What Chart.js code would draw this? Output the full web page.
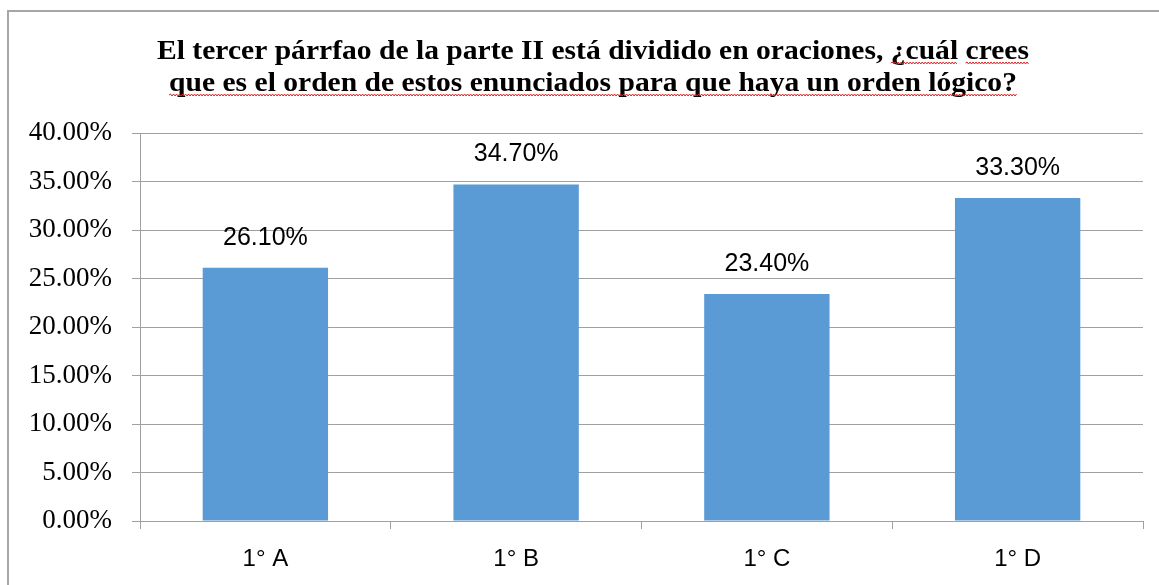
<!DOCTYPE html>
<html>
<head>
<meta charset="utf-8">
<script src="https://cdn.jsdelivr.net/npm/chart.js@4.4.0/dist/chart.umd.min.js"></script>
<style>
  html, body { margin: 0; padding: 0; background: #fff; }
  #wrap { position: absolute; left: 0; top: 0; width: 1159px; height: 585px; }
</style>
</head>
<body>
<div id="wrap"><canvas id="c" width="1159" height="585"></canvas></div>
<script>
const categories = ['1° A', '1° B', '1° C', '1° D'];
const values = [26.1, 34.7, 23.4, 33.3];
const titleLines = [
  'El tercer párrfao de la parte II está dividido en oraciones, ¿cuál crees',
  'que es el orden de estos enunciados para que haya un orden lógico?'
];
const underlinedWordsLine1 = ['¿cuál', 'crees'];

const frame = {
  id: 'frame',
  beforeDraw(chart) {
    const ctx = chart.ctx;
    ctx.save();
    ctx.fillStyle = '#fff';
    ctx.fillRect(0, 0, chart.width, chart.height);
    ctx.strokeStyle = '#a6a6a6';
    ctx.lineWidth = 2;
    ctx.beginPath();
    ctx.moveTo(8, chart.height + 2);
    ctx.lineTo(8, 11);
    ctx.lineTo(chart.width + 2, 11);
    ctx.stroke();
    ctx.restore();
  }
};

function wavy(ctx, x1, x2, y) {
  ctx.beginPath();
  let up = true;
  ctx.moveTo(x1, y);
  for (let x = x1 + 1.5; x <= x2; x += 1.5) {
    ctx.lineTo(x, up ? y - 1 : y + 1);
    up = !up;
  }
  ctx.stroke();
}

const titlePlugin = {
  id: 'titleDraw',
  afterDraw(chart) {
    const ctx = chart.ctx;
    ctx.save();
    ctx.font = 'bold 27px "Liberation Serif", "Times New Roman", serif';
    ctx.fillStyle = '#000';
    ctx.textBaseline = 'alphabetic';
    ctx.textAlign = 'left';
    const cx = 593;
    const targetWidth = 872;
    const s = targetWidth / ctx.measureText(titleLines[0]).width;
    const baselines = [59, 91];
    ctx.strokeStyle = '#e02020';
    ctx.lineWidth = 1;
    titleLines.forEach((line, i) => {
      const w = ctx.measureText(line).width * s;
      const x0 = cx - w / 2;
      ctx.save();
      ctx.translate(x0, baselines[i]);
      ctx.scale(s, 1);
      ctx.fillText(line, 0, 0);
      ctx.restore();
      if (i === 1) {
        wavy(ctx, x0, x0 + w, baselines[i] + 4);
      } else {
        underlinedWordsLine1.forEach(word => {
          const idx = line.lastIndexOf(word);
          const pre = ctx.measureText(line.slice(0, idx)).width * s;
          const ww = ctx.measureText(word).width * s;
          wavy(ctx, x0 + pre, x0 + pre + ww, baselines[i] + 4);
        });
      }
    });
    ctx.restore();
  }
};

const dataLabels = {
  id: 'dataLabels',
  afterDatasetsDraw(chart) {
    const ctx = chart.ctx;
    const meta = chart.getDatasetMeta(0);
    ctx.save();
    ctx.font = '25px "Liberation Sans", Arial, sans-serif';
    ctx.fillStyle = '#000';
    ctx.textAlign = 'center';
    ctx.textBaseline = 'middle';
    meta.data.forEach((bar, i) => {
      ctx.fillText(values[i].toFixed(2) + '%', bar.x, bar.y - 30);
    });
    ctx.restore();
  }
};

new Chart(document.getElementById('c'), {
  type: 'bar',
  data: {
    labels: categories,
    datasets: [{
      data: values,
      backgroundColor: '#5B9BD5',
      borderWidth: 0,
      barPercentage: 0.5,
      categoryPercentage: 1.0
    }]
  },
  options: {
    responsive: false,
    animation: false,
    devicePixelRatio: 1,
    layout: { padding: { left: 0, right: 16, top: 133, bottom: 0 } },
    plugins: {
      legend: { display: false },
      title: { display: false },
      tooltip: { enabled: false }
    },
    scales: {
      y: {
        min: 0,
        max: 40,
        afterFit(scale) { scale.width = 140; },
        ticks: {
          stepSize: 5,
          padding: 20,
          color: '#000',
          font: { family: '"Liberation Serif", "Times New Roman", serif', size: 27 },
          callback: v => v.toFixed(2) + '%'
        },
        grid: { color: '#a0a0a0', lineWidth: 1, tickLength: 8, drawTicks: true },
        border: { display: true, color: '#a0a0a0', width: 1 }
      },
      x: {
        afterFit(scale) { scale.height = 64; },
        ticks: {
          padding: 16,
          color: '#000',
          font: { family: '"Liberation Sans", Arial, sans-serif', size: 24 }
        },
        grid: { drawOnChartArea: false, drawTicks: true, tickLength: 8, color: '#a0a0a0', offset: true },
        border: { display: true, color: '#a0a0a0', width: 1 }
      }
    }
  },
  plugins: [frame, dataLabels, titlePlugin]
});
</script>
</body>
</html>
